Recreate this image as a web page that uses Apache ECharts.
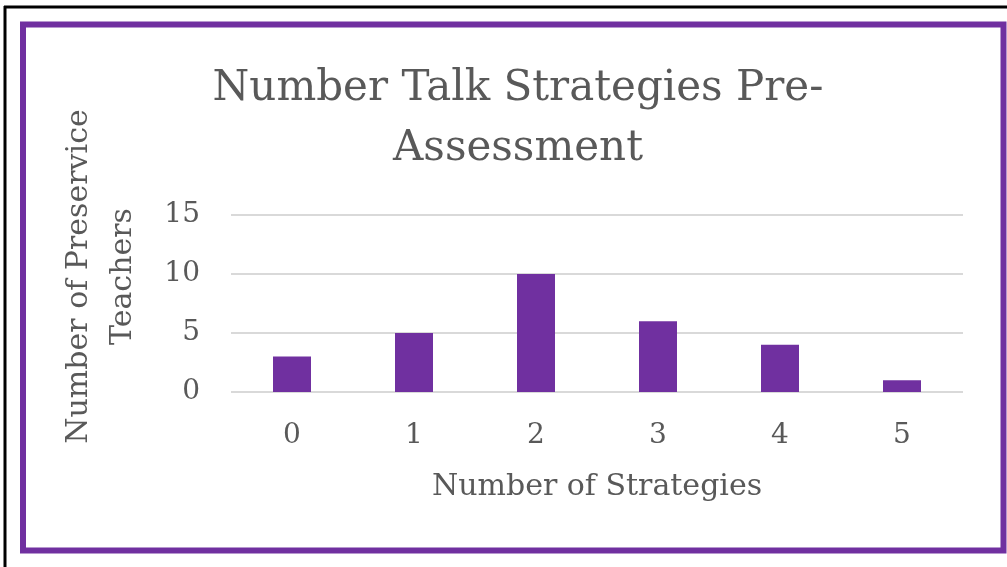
<!DOCTYPE html>
<html>
<head>
<meta charset="utf-8">
<script src="https://cdn.jsdelivr.net/npm/echarts@6/dist/echarts.min.js"></script>
<style>
html,body{margin:0;padding:0;background:#fff;}
#c{width:1007px;height:567px;}
</style>
</head>
<body>
<div id="c"></div>
<script>
var titleText = 'Number Talk Strategies Pre-\nAssessment';
var categories = ['0', '1', '2', '3', '4', '5'];
var teachers = [3, 5, 10, 6, 4, 1];
var yTicks = [0, 5, 10, 15];
var xName = 'Number of Strategies';
var yName = 'Number of Preservice\nTeachers';

var FONT = '"DejaVu Serif", "Liberation Serif", serif';
var chart = echarts.init(document.getElementById('c'));
chart.setOption({
  backgroundColor: '#fff',
  animation: false,
  title: {
    text: titleText,
    left: 513,
    top: 54,
    textAlign: 'center',
    textStyle: {
      fontFamily: FONT,
      fontWeight: 'normal',
      fontSize: 42,
      color: '#595959',
      lineHeight: 60,
      align: 'center'
    }
  },
  grid: { left: 231, right: 44, top: 215, bottom: 175 },
  xAxis: {
    type: 'category',
    data: categories,
    name: xName,
    nameLocation: 'middle',
    nameGap: 80,
    nameTextStyle: { fontFamily: FONT, fontSize: 30, color: '#595959' },
    axisLine: { show: false },
    axisTick: { show: false },
    axisLabel: { fontFamily: FONT, fontSize: 28, color: '#595959', margin: 30 }
  },
  yAxis: {
    type: 'value',
    min: yTicks[0],
    max: yTicks[yTicks.length - 1],
    interval: 5,
    name: yName,
    nameLocation: 'middle',
    nameGap: 86,
    nameTextStyle: { fontFamily: FONT, fontSize: 30, color: '#595959', lineHeight: 44, align: 'center', padding: [0, 0, 0, 54] },
    axisLine: { show: false },
    axisTick: { show: false },
    axisLabel: { fontFamily: FONT, fontSize: 28, color: '#595959', margin: 31 },
    splitLine: { lineStyle: { color: '#d9d9d9', width: 2 } }
  },
  series: [{
    type: 'bar',
    data: teachers,
    barWidth: 38,
    itemStyle: { color: '#7030a0' }
  }],
  graphic: [
    { type: 'line', silent: true, shape: { x1: 4, y1: 7, x2: 1007, y2: 7 }, style: { stroke: '#000', lineWidth: 3 } },
    { type: 'line', silent: true, shape: { x1: 5, y1: 6, x2: 5, y2: 567 }, style: { stroke: '#000', lineWidth: 3 } },
    { type: 'rect', silent: true, shape: { x: 23, y: 24.5, width: 980.5, height: 526 }, style: { fill: 'none', stroke: '#7030a0', lineWidth: 6 } }
  ]
});
</script>
</body>
</html>
